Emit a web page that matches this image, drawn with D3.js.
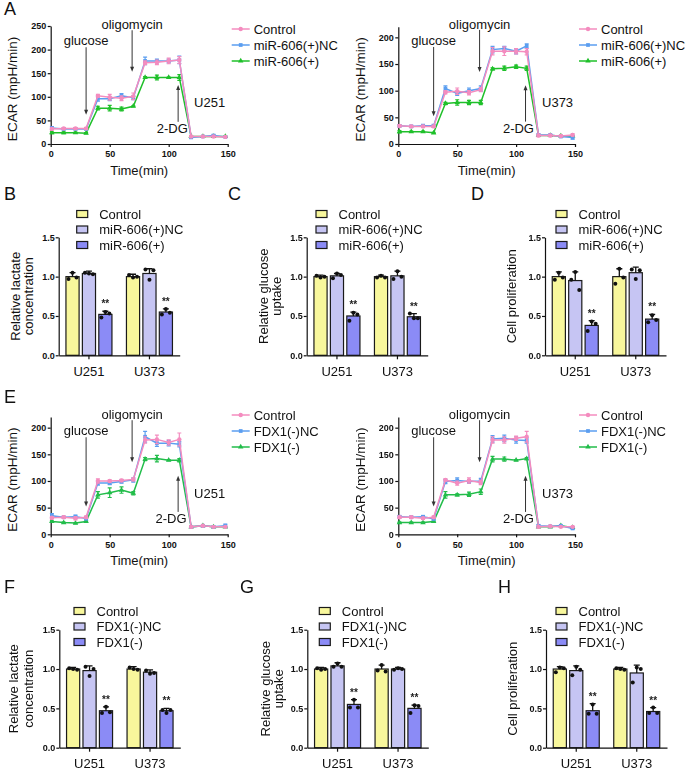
<!DOCTYPE html>
<html><head><meta charset="utf-8">
<script src="https://cdn.jsdelivr.net/npm/d3@7"></script>
<style>
body{margin:0;background:#fff;}
svg text{font-family:"Liberation Sans",Arial,Helvetica,sans-serif;fill:#111;}
.sig{will-change:transform;}
</style></head><body>
<svg id="c" width="685" height="770"></svg>
<script>
// ---------------- DATA ----------------
const times = [1,11,21,30,40,50,60,70,80,90,100,109,119,129,138,148];
const timeTicks = [0,50,100,150];
const ticksA1 = [0,50,100,150,200,250];
const ticksOther = [0,50,100,150,200];
const namesMiR = ["Control","miR-606(+)NC","miR-606(+)"];
const namesFDX = ["Control","FDX1(-)NC","FDX1(-)"];
const cells = ["U251","U373"];

// Panel A, U251
const a251_ctrl = [32,33,33,33,102,99,97,101,172,173,176,178,16,16,16,15];
const a251_nc   = [34,32,32,32,96,96,102,98,176,176,176,178,14,16,18,15];
const a251_mir  = [24,24,24,23,76,76,74,80,141,141,141,141,16,16,16,16];
const a251_ctrl_sd = [2,2,2,2,3,6,5,7,4,5,6,7,2,1,1,1];
const a251_nc_sd   = [3,2,2,2,5,4,5,4,8,4,4,8,2,1,2,1];
const a251_mir_sd  = [2,2,1,1,4,6,4,1,2,5,1,6,1,1,1,1];
// Panel A, U373
const a373_ctrl = [34,33,33,33,97,99,96,102,174,174,174,173,16,16,15,17];
const a373_nc   = [34,33,34,34,104,95,100,104,177,179,174,184,17,17,14,12];
const a373_mir  = [23,23,23,21,76,78,78,78,141,142,145,142,16,16,15,15];
const a373_ctrl_sd = [2,2,2,2,3,6,4,4,7,8,5,6,2,2,1,2];
const a373_nc_sd   = [2,2,3,3,5,4,5,5,6,4,5,4,2,1,1,3];
const a373_mir_sd  = [2,1,1,1,2,5,4,4,2,4,3,4,1,1,1,1];
// Panel E, U251
const e251_ctrl = [31,32,30,32,100,100,101,103,177,178,172,178,14,16,14,14];
const e251_nc   = [35,32,33,30,96,96,99,102,183,171,171,169,14,16,14,16];
const e251_fdx  = [24,22,21,24,74,78,83,77,141,142,139,139,14,16,14,14];
const e251_ctrl_sd = [2,2,3,2,4,2,2,3,6,8,5,12,2,1,1,1];
const e251_nc_sd   = [4,1,3,3,4,3,3,4,10,6,5,5,2,2,1,3];
const e251_fdx_sd  = [1,1,1,1,6,9,6,3,3,6,1,3,1,1,1,1];
// Panel E, U373
const e373_ctrl = [32,32,30,32,102,96,101,97,177,177,180,183,14,15,14,14];
const e373_nc   = [33,32,33,29,99,101,99,100,179,180,177,176,16,15,16,11];
const e373_fdx  = [22,22,22,24,74,74,75,80,141,141,139,142,14,14,16,13];
const e373_ctrl_sd = [2,2,2,2,2,4,5,4,6,6,4,10,2,1,1,1];
const e373_nc_sd   = [2,2,2,2,4,5,3,5,6,6,6,5,2,1,1,2];
const e373_fdx_sd  = [1,1,1,1,6,2,4,5,5,4,1,2,1,1,1,1];

// annotations (data units)
const annotA1 = [
  {text:"glucose", t:30, from:205, to:62, tt:30, tv:220, anchor:"middle"},
  {text:"oligomycin", t:69, from:241, to:153, tt:69, tv:254, anchor:"middle"},
  {text:"2-DG", t:108, from:47, to:125, tt:103, tv:34, anchor:"middle"}
];
const annot220 = [
  {text:"glucose", t:30, from:182, to:52, tt:30, tv:195, anchor:"middle"},
  {text:"oligomycin", t:69, from:214, to:135, tt:69, tv:225, anchor:"middle"},
  {text:"2-DG", t:108, from:42, to:110, tt:102, tv:30, anchor:"middle"}
];

// Bar panels: [series][cell]
const B_mean = [[1.00,1.00],[1.04,1.04],[0.52,0.55]];
const B_sd   = [[0.05,0.03],[0.03,0.06],[0.04,0.04]];
const B_dots = [[[0.97,1.05,0.99],[1.02,0.99,1.00]],[[1.05,1.04,1.03],[1.09,0.96,1.08]],[[0.48,0.55,0.53],[0.52,0.59,0.54]]];
const C_mean = [[1.00,1.00],[1.01,1.01],[0.50,0.49]];
const C_sd   = [[0.02,0.02],[0.03,0.06],[0.05,0.04]];
const C_dots = [[[1.01,0.99,1.00],[0.99,1.01,0.99]],[[0.98,1.04,1.02],[0.97,1.07,1.00]],[[0.44,0.54,0.52],[0.53,0.47,0.47]]];
const D_mean = [[1.00,1.00],[0.95,1.05],[0.38,0.46]];
const D_sd   = [[0.06,0.10],[0.11,0.07],[0.06,0.06]];
const D_dots = [[[0.96,1.05,0.99],[0.91,1.10,0.99]],[[0.96,1.06,0.83],[1.09,0.97,1.08]],[[0.31,0.43,0.40],[0.42,0.51,0.45]]];
const F_mean = [[1.00,1.00],[0.98,0.96],[0.47,0.47]];
const F_sd   = [[0.02,0.03],[0.06,0.03],[0.05,0.03]];
const F_dots = [[[1.01,1.00,0.99],[1.02,1.00,0.99]],[[1.03,0.91,1.00],[0.98,0.94,0.95]],[[0.44,0.52,0.45],[0.48,0.44,0.48]]];
const G_mean = [[1.00,1.00],[1.04,1.00],[0.55,0.50]];
const G_sd   = [[0.02,0.05],[0.04,0.02],[0.06,0.04]];
const G_dots = [[[1.01,0.99,1.00],[0.98,1.05,0.97]],[[1.03,1.07,1.03],[0.99,1.01,1.00]],[[0.51,0.61,0.51],[0.44,0.54,0.53]]];
const H_mean = [[1.00,1.00],[0.98,0.95],[0.47,0.46]];
const H_sd   = [[0.03,0.02],[0.06,0.10],[0.09,0.05]];
const H_dots = [[[0.96,1.02,1.01],[1.01,1.00,0.99]],[[0.92,1.03,0.99],[0.83,1.02,1.00]],[[0.43,0.55,0.43],[0.44,0.51,0.44]]];

// ---------------- STYLE ----------------
const lineColors = ["#f48cbf","#5b9ef0","#1fc02a"];
const lineColorsE = ["#f48cbf","#5b9ef0","#22bd4a"];
const shapes = [d3.symbolCircle, d3.symbolSquare, d3.symbolTriangle];
const shapeSize = [15, 14, 13];
const barColors = ["#f8f79c","#c6c5f3","#8b8bf6"];

const svg = d3.select("#c");

function styleAxis(g, fs, bold){
  g.selectAll("path,line").attr("stroke","#111").attr("stroke-width",1.2);
  g.selectAll("text").attr("font-size",fs).attr("font-weight",bold?"bold":"normal")
    .attr("font-family",'"Liberation Sans",Arial,sans-serif').attr("fill","#111");
}

function letter(t,x,y){
  svg.append("text").attr("x",x).attr("y",y).attr("font-size",18).text(t);
}

function arrowHead(g,x,yTip,dir){ // dir: +1 pointing down, -1 pointing up
  g.append("path").attr("d",`M${x},${yTip}L${x-2},${yTip-5*dir}L${x+2},${yTip-5*dir}Z`).attr("fill","#333");
}

function drawLinePanel(p){
  const g = svg.append("g");
  const x = d3.scaleLinear().domain([0,150]).range([p.left,p.right]);
  const y = d3.scaleLinear().domain([0,p.ymax]).range([p.bottom,p.top]);
  const xa = g.append("g").attr("transform",`translate(0,${p.bottom})`)
    .call(d3.axisBottom(x).tickValues(timeTicks).tickSize(3).tickPadding(4).tickSizeOuter(0));
  styleAxis(xa,9,true);
  const ya = g.append("g").attr("transform",`translate(${p.left},0)`)
    .call(d3.axisLeft(y).tickValues(p.ticks).tickSize(3).tickPadding(1.5).tickSizeOuter(0));
  styleAxis(ya,9,true);
  g.append("text").attr("x",(p.left+p.right)/2).attr("y",p.bottom+31).attr("text-anchor","middle")
    .attr("font-size",13).text("Time(min)");
  g.append("text").attr("transform",`translate(${p.left-38},${(p.top+p.bottom)/2+4}) rotate(-90)`)
    .attr("text-anchor","middle").attr("dy","0.35em").attr("font-size",13.5).text("ECAR (mpH/min)");
  for(let i=p.series.length-1;i>=0;i--){
    const s = p.series[i];
    const pts = times.map((t,k)=>({t, v:s.vals[k], e:s.errs[k]}));
    g.append("g").selectAll("path").data(pts).join("path")
      .attr("d",d=>`M${x(d.t)},${y(d.v-d.e)}V${y(d.v+d.e)}M${x(d.t)-2},${y(d.v+d.e)}h4M${x(d.t)-2},${y(d.v-d.e)}h4`)
      .attr("stroke",s.color).attr("stroke-width",1.2).attr("fill","none");
    g.append("path").datum(pts).attr("d",d3.line().x(d=>x(d.t)).y(d=>y(d.v)))
      .attr("fill","none").attr("stroke",s.color).attr("stroke-width",1.5);
    g.append("g").selectAll("path").data(pts).join("path")
      .attr("transform",d=>`translate(${x(d.t)},${y(d.v)})`)
      .attr("d",d3.symbol().type(s.shape).size(s.size)).attr("fill",s.color);
  }
  p.series.forEach((s,i)=>{
    const ly = p.legendY + i*16;
    g.append("line").attr("x1",p.right+4).attr("x2",p.right+22).attr("y1",ly).attr("y2",ly)
      .attr("stroke",s.color).attr("stroke-width",1.5);
    g.append("path").attr("transform",`translate(${p.right+13},${ly})`)
      .attr("d",d3.symbol().type(s.shape).size(s.size)).attr("fill",s.color);
    g.append("text").attr("x",p.right+26).attr("y",ly).attr("dy","0.35em").attr("font-size",13).text(s.name);
  });
  p.annot.forEach(a=>{
    const ax = x(a.t), y1 = y(a.from), y2 = y(a.to);
    const dir = y2>y1 ? 1 : -1;
    g.append("line").attr("x1",ax).attr("x2",ax).attr("y1",y1).attr("y2",y2-4*dir)
      .attr("stroke","#333").attr("stroke-width",1);
    arrowHead(g,ax,y2,dir);
    g.append("text").attr("x",x(a.tt)).attr("y",y(a.tv)).attr("dy","0.35em")
      .attr("text-anchor",a.anchor).attr("font-size",13).text(a.text);
  });
  g.append("text").attr("x",x(p.cellT)).attr("y",y(p.cellV)).attr("dy","0.35em")
    .attr("font-size",13).text(p.cell);
}

function drawBarPanel(p){
  const g = svg.append("g");
  const x = d3.scaleBand().domain(cells).range([p.ax,p.ax+121]);
  const xs = d3.scaleBand().domain([0,1,2]).range([-23,23]).paddingInner(0.2);
  const y = d3.scaleLinear().domain([0,1.5]).range([p.y0,p.y0-118]);
  const bw = xs.bandwidth();
  const recs = [];
  cells.forEach((c,ci)=>{
    for(let j=0;j<3;j++){
      recs.push({c, j, m:p.mean[j][ci], e:p.sd[j][ci], d:p.dots[j][ci]});
    }
  });
  const cx = r => x(r.c)+x.bandwidth()/2 + xs(r.j);
  g.append("g").selectAll("rect").data(recs).join("rect")
    .attr("x",cx).attr("width",bw).attr("y",r=>y(r.m)).attr("height",r=>y(0)-y(r.m))
    .attr("fill",r=>barColors[r.j]).attr("stroke","#1a1a1a").attr("stroke-width",1.2);
  g.append("g").selectAll("path").data(recs).join("path")
    .attr("d",r=>{const m=cx(r)+bw/2; return `M${m},${y(r.m)}V${y(r.m+r.e)}M${m-3},${y(r.m+r.e)}h6`;})
    .attr("stroke","#111").attr("stroke-width",1.3).attr("fill","none");
  const dots = [];
  recs.forEach(r=>r.d.forEach((v,k)=>dots.push({r,v,k})));
  g.append("g").selectAll("circle").data(dots).join("circle")
    .attr("cx",o=>cx(o.r)+bw/2+(o.k-1)*4).attr("cy",o=>y(o.v)).attr("r",2).attr("fill","#111");
  g.append("g").attr("class","sig").selectAll("text").data(recs.filter(r=>r.j===2)).join("text")
    .attr("x",r=>cx(r)+bw/2).attr("y",r=>y(Math.max(r.m+r.e,d3.max(r.d)))-4)
    .attr("text-anchor","middle").attr("font-size",10).attr("font-weight","bold")
    .style("fill","#222").text("**");
  const xa = g.append("g").attr("transform",`translate(0,${p.y0})`)
    .call(d3.axisBottom(x).tickSize(4).tickPadding(7).tickSizeOuter(0));
  styleAxis(xa,13,false);
  const ya = g.append("g").attr("transform",`translate(${p.ax},0)`)
    .call(d3.axisLeft(y).tickValues([0,0.5,1.0,1.5]).tickFormat(d3.format(".1f")).tickSize(3).tickPadding(1).tickSizeOuter(0));
  styleAxis(ya,9,true);
  p.ylab.forEach((t,i)=>{
    g.append("text").attr("transform",`translate(${p.ax+p.ylabX[i]},${(y(0)+y(1.5))/2}) rotate(-90)`)
      .attr("text-anchor","middle").attr("dy","0.35em").attr("font-size",13).text(t);
  });
  p.names.forEach((n,i)=>{
    const ly = p.ly + i*15.5;
    g.append("rect").attr("x",p.lx).attr("y",ly-3.5).attr("width",11).attr("height",7)
      .attr("fill",barColors[i]).attr("stroke","#1a1a1a").attr("stroke-width",1.2);
    g.append("text").attr("x",p.lx+22.5).attr("y",ly).attr("dy","0.35em").attr("font-size",13).text(n);
  });
}

// ---------------- DRAW ----------------
function mk(names, vals, errs, colors){
  return names.map((n,i)=>({name:n, vals:vals[i], errs:errs[i], color:colors[i], shape:shapes[i], size:shapeSize[i]}));
}

letter("A",4,15);
drawLinePanel({left:50.7,right:227.7,top:26,bottom:144,ymax:250,ticks:ticksA1,legendY:29,
  series:mk(namesMiR,[a251_ctrl,a251_nc,a251_mir],[a251_ctrl_sd,a251_nc_sd,a251_mir_sd],lineColors),
  annot:annotA1, cell:"U251", cellT:121.5, cellV:87});
drawLinePanel({left:398.3,right:575,top:26.7,bottom:144,ymax:220,ticks:ticksOther,legendY:29,
  series:mk(namesMiR,[a373_ctrl,a373_nc,a373_mir],[a373_ctrl_sd,a373_nc_sd,a373_mir_sd],lineColors),
  annot:annot220, cell:"U373", cellT:122, cellV:77});

letter("B",4,200); letter("C",228,200); letter("D",471,200);
drawBarPanel({ax:58.7,y0:355.3,mean:B_mean,sd:B_sd,dots:B_dots,names:namesMiR,lx:76.7,ly:214,
  ylab:["Relative lactate","concentration"],ylabX:[-43.7,-30.7]});
drawBarPanel({ax:306.7,y0:355.3,mean:C_mean,sd:C_sd,dots:C_dots,names:namesMiR,lx:316,ly:214,
  ylab:["Relative glucose","uptake"],ylabX:[-43.7,-30]});
drawBarPanel({ax:545,y0:355.3,mean:D_mean,sd:D_sd,dots:D_dots,names:namesMiR,lx:556,ly:214,
  ylab:["Cell proliferation"],ylabX:[-33.3]});

letter("E",4,403);
drawLinePanel({left:50.7,right:227.7,top:417,bottom:534.3,ymax:220,ticks:ticksOther,legendY:415,
  series:mk(namesFDX,[e251_ctrl,e251_nc,e251_fdx],[e251_ctrl_sd,e251_nc_sd,e251_fdx_sd],lineColorsE),
  annot:annot220, cell:"U251", cellT:121.5, cellV:77});
drawLinePanel({left:398.3,right:575,top:417,bottom:534.3,ymax:220,ticks:ticksOther,legendY:415,
  series:mk(namesFDX,[e373_ctrl,e373_nc,e373_fdx],[e373_ctrl_sd,e373_nc_sd,e373_fdx_sd],lineColorsE),
  annot:annot220, cell:"U373", cellT:122, cellV:77});

letter("F",4,593); letter("G",240,593); letter("H",498,593);
drawBarPanel({ax:59.3,y0:747.7,mean:F_mean,sd:F_sd,dots:F_dots,names:namesFDX,lx:74,ly:611,
  ylab:["Relative lactate","concentration"],ylabX:[-46,-31]});
drawBarPanel({ax:307.3,y0:747.7,mean:G_mean,sd:G_sd,dots:G_dots,names:namesFDX,lx:319.3,ly:611,
  ylab:["Relative glucose","uptake"],ylabX:[-42.3,-29]});
drawBarPanel({ax:546,y0:747.7,mean:H_mean,sd:H_sd,dots:H_dots,names:namesFDX,lx:556,ly:611,
  ylab:["Cell proliferation"],ylabX:[-34]});
</script></body></html>
